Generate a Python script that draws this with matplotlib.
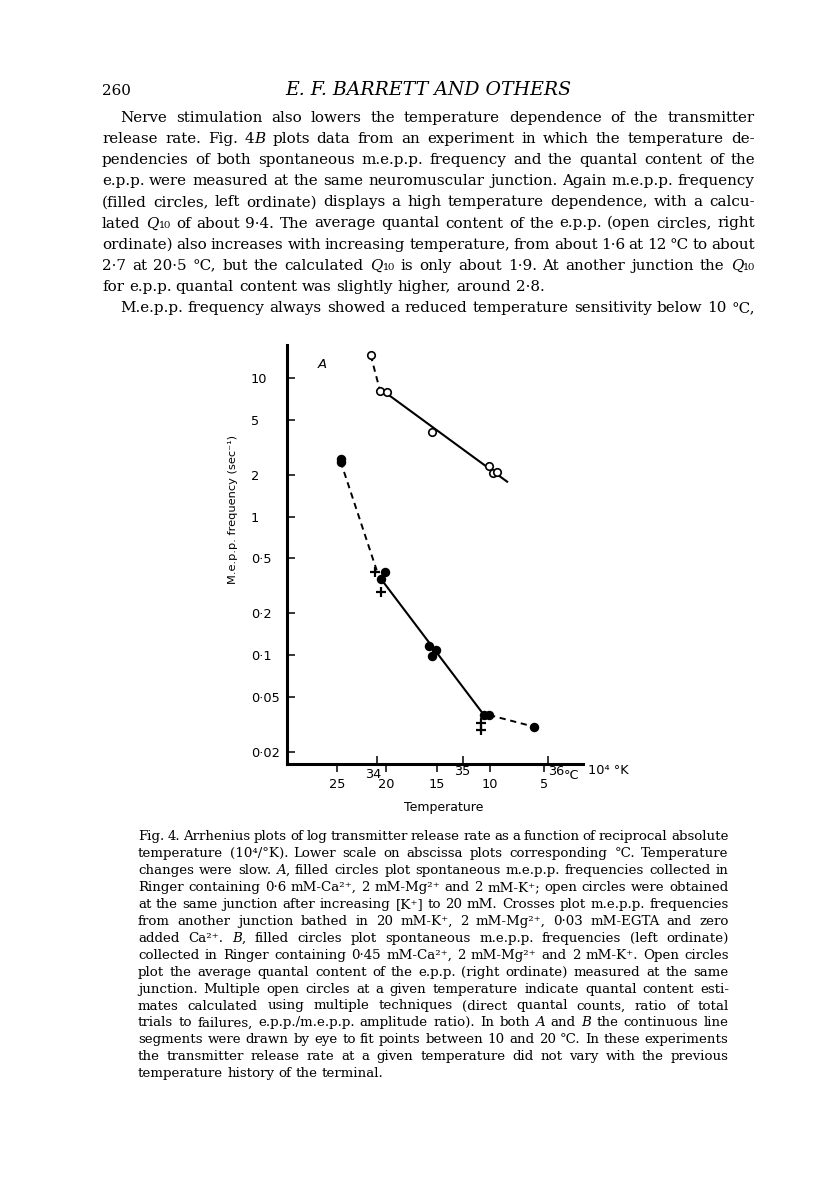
import re
import matplotlib
matplotlib.use("Agg")
import matplotlib.pyplot as plt
from matplotlib.ticker import NullLocator

W, H = 816, 1181
SERIF = ['DejaVu Serif', 'DejaVu Sans']
plt.rcParams['font.family'] = ['DejaVu Sans']

# ---- values: x = 10^4/K, y = m.e.p.p. frequency (sec^-1)
open_x = [33.93, 34.04, 34.12, 34.65, 35.31, 35.35, 35.40]
open_y = [14.7, 8.1, 7.9, 4.07, 2.34, 2.06, 2.09]
open_fit_x = [34.10, 35.52]
open_fit_y = [7.9, 1.79]
open_dash_x = [33.93, 34.04]
open_dash_y = [14.7, 8.1]

filled_x = [33.58, 33.58, 34.10, 34.05, 34.61, 34.69, 34.64, 35.25, 35.31, 35.83]
filled_y = [2.62, 2.47, 0.396, 0.355, 0.117, 0.109, 0.099, 0.0369, 0.0369, 0.0304]
filled_fit_x = [34.05, 35.25]
filled_fit_y = [0.355, 0.0369]
filled_dash_hi_x = [33.58, 34.00]
filled_dash_hi_y = [2.5, 0.41]
filled_dash_lo_x = [35.31, 35.83]
filled_dash_lo_y = [0.0369, 0.0304]

cross_x = [33.98, 34.05, 35.22, 35.22]
cross_y = [0.40, 0.287, 0.0321, 0.0288]

kelvin_ticks = [34, 35, 36]
celsius_ticks = [25, 20, 15, 10, 5]
freq_ticks = [10, 5, 2, 1, 0.5, 0.2, 0.1, 0.05, 0.02]
freq_labels = ['10', '5', '2', '1', '0·5', '0·2', '0·1', '0·05', '0·02']

# ---- page text ({...} = italic)
body = [
    "Nerve stimulation also lowers the temperature dependence of the transmitter",
    "release rate. Fig. 4{B} plots data from an experiment in which the temperature de-",
    "pendencies of both spontaneous m.e.p.p. frequency and the quantal content of the",
    "e.p.p. were measured at the same neuromuscular junction. Again m.e.p.p. frequency",
    "(filled circles, left ordinate) displays a high temperature dependence, with a calcu-",
    "lated {Q}₁₀ of about 9·4. The average quantal content of the e.p.p. (open circles, right",
    "ordinate) also increases with increasing temperature, from about 1·6 at 12 °C to about",
    "2·7 at 20·5 °C, but the calculated {Q}₁₀ is only about 1·9. At another junction the {Q}₁₀",
    "for e.p.p. quantal content was slightly higher, around 2·8.",
    "M.e.p.p. frequency always showed a reduced temperature sensitivity below 10 °C,",
]
caption = [
    "Fig. 4. Arrhenius plots of log transmitter release rate as a function of reciprocal absolute",
    "temperature (10⁴/°K). Lower scale on abscissa plots corresponding °C. Temperature",
    "changes were slow. {A}, filled circles plot spontaneous m.e.p.p. frequencies collected in",
    "Ringer containing 0·6 mM-Ca²⁺, 2 mM-Mg²⁺ and 2 mM-K⁺; open circles were obtained",
    "at the same junction after increasing [K⁺] to 20 mM. Crosses plot m.e.p.p. frequencies",
    "from another junction bathed in 20 mM-K⁺, 2 mM-Mg²⁺, 0·03 mM-EGTA and zero",
    "added Ca²⁺. {B}, filled circles plot spontaneous m.e.p.p. frequencies (left ordinate)",
    "collected in Ringer containing 0·45 mM-Ca²⁺, 2 mM-Mg²⁺ and 2 mM-K⁺. Open circles",
    "plot the average quantal content of the e.p.p. (right ordinate) measured at the same",
    "junction. Multiple open circles at a given temperature indicate quantal content esti-",
    "mates calculated using multiple techniques (direct quantal counts, ratio of total",
    "trials to failures, e.p.p./m.e.p.p. amplitude ratio). In both {A} and {B} the continuous line",
    "segments were drawn by eye to fit points between 10 and 20 °C. In these experiments",
    "the transmitter release rate at a given temperature did not vary with the previous",
    "temperature history of the terminal.",
]

fig = plt.figure(figsize=(W / 100, H / 100), dpi=100)
fig.patch.set_facecolor('white')
renderer = fig.canvas.get_renderer()


def runs_of(word):
    out = []
    for part in re.split(r'(\{[^}]*\})', word):
        if part.startswith('{'):
            out.append((part[1:-1], 'italic'))
        elif part:
            out.append((part, 'normal'))
    return out


def run_width(txt, style, size):
    t = fig.text(0, 0, txt, fontsize=size, family=SERIF, style=style)
    w = t.get_window_extent(renderer).width
    t.remove()
    return w


def set_block(lines, x0, x1, base0, lead, size_max, indents, ragged):
    ref = 10.0
    words = [[runs_of(w) for w in ln.split()] for ln in lines]
    wid = [[[run_width(t, s, ref) for t, s in w] for w in ln] for ln in words]
    space = run_width('a a', 'normal', ref) - run_width('aa', 'normal', ref)
    size = size_max
    for wl, ind, rag in zip(wid, indents, ragged):
        if rag:
            continue
        need = sum(sum(w) for w in wl) + (len(wl) - 1) * space * 0.75
        size = min(size, ref * (x1 - x0 - ind) / need)
    k = size / ref
    for i, (ln, wl, ind, rag) in enumerate(zip(words, wid, indents, ragged)):
        y = 1 - (base0 + i * lead) / H
        total = sum(sum(w) for w in wl) * k
        if rag or len(ln) == 1:
            gap = space * k
        else:
            gap = (x1 - x0 - ind - total) / (len(ln) - 1)
        x = x0 + ind
        for runs, rw in zip(ln, wl):
            for (t, s), w in zip(runs, rw):
                fig.text(x / W, y, t, fontsize=size, family=SERIF, style=s,
                         ha='left', va='baseline')
                x += w * k
            x += gap
    return size


bsize = set_block(body, 102, 755, 122, 21.1, 12.5,
                  [18, 0, 0, 0, 0, 0, 0, 0, 0, 18],
                  [False] * 8 + [True, False])
set_block(caption, 138, 729, 840, 16.95, 10.5,
          [0] * 15, [False] * 14 + [True])

fig.text(102 / W, 1 - 95 / H, '260', fontsize=bsize, family=SERIF,
         ha='left', va='baseline')
title = 'E. F. BARRETT AND OTHERS'
tsize = 10 * 286 / run_width(title, 'italic', 10)
fig.text(428 / W, 1 - 95 / H, title, fontsize=tsize, family=SERIF,
         style='italic', ha='center', va='baseline')

# ---- chart
ax = fig.add_axes([287 / W, 1 - 764 / H, (583 - 287) / W, (764 - 345) / H])
ax.patch.set_alpha(0)
ax.set_yscale('log')
ax.set_xlim(32.955, 36.404)
ax.set_ylim(0.01633, 17.4)
for s in ['top', 'right']:
    ax.spines[s].set_visible(False)
for s in ['left', 'bottom']:
    ax.spines[s].set_linewidth(2.2)

dash = (0, (3.2, 2.4))
ax.plot(open_fit_x, open_fit_y, color='k', lw=1.5, zorder=2)
ax.plot(open_dash_x, open_dash_y, color='k', lw=1.4, ls=dash, zorder=2)
ax.plot(filled_fit_x, filled_fit_y, color='k', lw=1.5, zorder=2)
ax.plot(filled_dash_hi_x, filled_dash_hi_y, color='k', lw=1.4, ls=dash, zorder=2)
ax.plot(filled_dash_lo_x, filled_dash_lo_y, color='k', lw=1.4, ls=dash, zorder=2)
ax.plot(open_x, open_y, 'o', ms=5.4, mfc='white', mec='k', mew=1.2, zorder=3)
ax.plot(filled_x, filled_y, 'o', ms=5.8, color='k', zorder=3)
ax.plot(cross_x, cross_y, '+', ms=7, mew=1.6, color='k', zorder=3)

ax.set_yticks(freq_ticks)
ax.set_yticklabels(freq_labels)
ax.yaxis.set_minor_locator(NullLocator())
ax.tick_params(axis='y', direction='in', length=5.8, width=1.1, pad=25.9,
               labelsize=9.3)
for lab in ax.get_yticklabels():
    lab.set_horizontalalignment('left')

ax.set_xticks(kelvin_ticks)
ax.tick_params(axis='x', which='major', direction='in', length=5.8, width=1.1,
               labelbottom=False)
ax.set_xticks([1e4 / (c + 273.15) for c in celsius_ticks], minor=True)
ax.set_xticklabels([str(c) for c in celsius_ticks], minor=True)
ax.tick_params(axis='x', which='minor', direction='out', length=5.8, width=1.1,
               pad=4.3, labelsize=9.3)

k_off = [(-2.7, -2.6), (0, -0.8), (5.5, -0.8)]
for k, (dx, dy) in zip(kelvin_ticks, k_off):
    ax.annotate(str(k), xy=(k, 0), xycoords=('data', 'axes fraction'),
                xytext=(dx, dy), textcoords='offset points',
                ha='center', va='top', fontsize=9.3)
ax.annotate('°C', xy=(1, 0), xycoords='axes fraction', xytext=(-8.6, -8.6),
            textcoords='offset points', ha='center', va='center', fontsize=9.3)
ax.annotate('10⁴ °K', xy=(1, 0), xycoords='axes fraction', xytext=(18, -5),
            textcoords='offset points', ha='center', va='center', fontsize=9.3)

fig.text(322 / W, 1 - 364 / H, 'A', style='italic', fontsize=9.5,
         ha='center', va='center')
fig.text(444 / W, 1 - 807 / H, 'Temperature', fontsize=9,
         ha='center', va='center')
fig.text(233 / W, 1 - 510 / H, 'M.e.p.p. frequency (sec⁻¹)', rotation=90,
         fontsize=8.2, ha='center', va='center')

fig.savefig('out.png', dpi=100)
